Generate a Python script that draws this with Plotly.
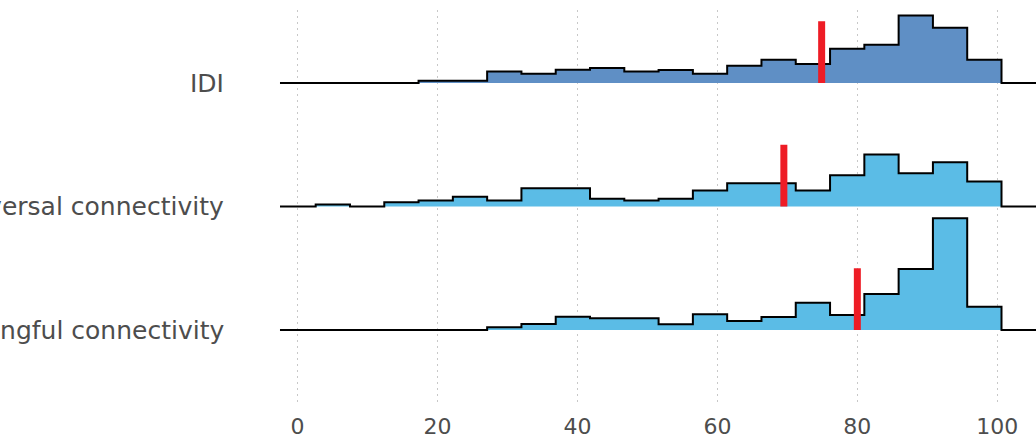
import numpy as np
import plotly.graph_objects as go

# ---- data ----
rows = ["Meaningful connectivity", "Universal connectivity", "IDI"]
fills = ["#5BBCE6", "#5BBCE6", "#5F8FC5"]
bin_start = -2.3
bin_width = 4.9
n_bins = 21
# histogram heights (relative units) per bin, 21 bins from -2.3 to 100.6
h_meaningful = [0, 0, 0, 0, 0, 0, 2.7, 6, 13.3, 11.7, 11.7, 5.7, 15.7, 9, 13, 27.3, 15, 36, 61, 111.7, 23.3]
h_universal = [0, 2, 0, 4.3, 6, 9.7, 6, 18.3, 18.3, 7.7, 6, 7.7, 16, 23.3, 23.3, 16, 31.3, 52, 33.3, 44.3, 25]
h_idi = [0, 0, 0, 0, 2.3, 2.3, 11.6, 9.3, 13.3, 15, 11.6, 13, 9.3, 17.3, 23.3, 19, 34.3, 38.3, 67.6, 55.3, 23.3]
heights = [h_meaningful, h_universal, h_idi]
medians = [80.0, 69.5, 74.9]
line_start, line_end = -2.5, 110
x_ticks = [0, 20, 40, 60, 80, 100]

SCALE = 1 / 123.5      # height units -> row units
MARK_H = 0.5           # red marker height in row units

edges = bin_start + bin_width * np.arange(n_bins + 1)

fig = go.Figure()
for i, (name, hs, col, med) in enumerate(zip(rows, heights, fills, medians)):
    base = i
    hs = np.array(hs) * SCALE
    # step outline
    xs = [line_start]
    ys = [base]
    for k in range(n_bins):
        xs += [edges[k], edges[k + 1]]
        ys += [base + hs[k], base + hs[k]]
    xs += [edges[-1], line_end]
    ys += [base, base]
    # fill polygon
    fx = list(xs[1:-1]) + [edges[-1], edges[0]]
    fy = list(ys[1:-1]) + [base, base]
    fig.add_trace(go.Scatter(x=fx, y=fy, fill="toself", fillcolor=col,
                             mode="lines", line=dict(width=0), hoverinfo="skip",
                             showlegend=False))
    fig.add_trace(go.Scatter(x=xs, y=ys, mode="lines",
                             line=dict(color="black", width=2), showlegend=False,
                             name=name))
    fig.add_trace(go.Scatter(x=[med, med], y=[base, base + MARK_H], mode="lines",
                             line=dict(color="#EE1C25", width=7), showlegend=False))

font = dict(family="DejaVu Sans", size=25, color="#4D4D4D")
tick_font = dict(family="DejaVu Sans", size=22, color="#4D4D4D")
for i, name in enumerate(rows):
    fig.add_annotation(x=226 / 1036, xref="paper", y=i, yref="y", text=name,
                       showarrow=False, xanchor="right", yanchor="middle", font=font)

fig.update_layout(
    width=1036, height=435,
    margin=dict(l=0, r=0, t=10, b=30),
    plot_bgcolor="white", paper_bgcolor="white",
    xaxis=dict(range=[-42.51, 105.53], tickvals=x_ticks, ticktext=[str(t) for t in x_ticks],
               showgrid=True, gridcolor="#C8C8C8", gridwidth=1.3, griddash="2px,4px",
               zeroline=False, showline=False, ticks="", tickfont=tick_font,
               ticklabelstandoff=6, automargin=False),
    yaxis=dict(range=[-0.607, 2.591], showgrid=False, zeroline=False,
               showticklabels=False, ticks="", automargin=False),
)
fig.write_html("out.html", config={"displayModeBar": False},
               post_script="document.body.style.margin='0';document.body.style.overflow='hidden';")
